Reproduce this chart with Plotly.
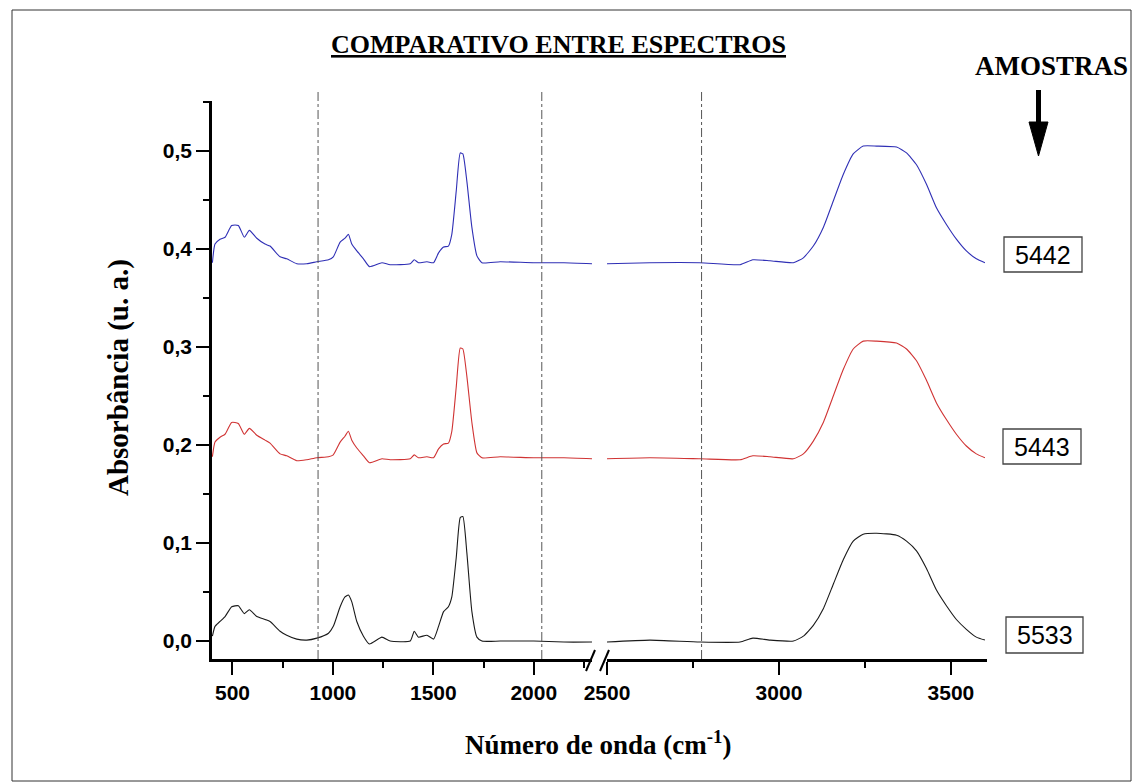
import plotly.graph_objects as go

# ---------------- data ----------------
wavenumber = [400, 413, 438, 463, 496, 529, 559, 584, 621, 662,
              687, 737, 770, 820, 870, 920, 978, 1002, 1036, 1060,
              1077, 1094, 1119, 1152, 1182, 1244, 1285, 1385, 1405, 1426,
              1468, 1501, 1526, 1551, 1575, 1592, 1614, 1634, 1647, 1667,
              1692, 1717, 1742, 1833, 2000, 2150, 2290,
              2497, 2625, 2770, 2887, 2924, 2974, 3042, 3071, 3100, 3129,
              3158, 3187, 3216, 3245, 3284, 3342, 3371, 3400, 3429, 3458,
              3487, 3516, 3545, 3574, 3599]

abs_5442 = [0.386, 0.405, 0.410, 0.412, 0.424, 0.424, 0.412, 0.419, 0.411, 0.405,
            0.403, 0.392, 0.390, 0.385, 0.385, 0.387, 0.389, 0.392, 0.407, 0.411,
            0.415, 0.405, 0.398, 0.390, 0.382, 0.386, 0.384, 0.385, 0.389, 0.386,
            0.387, 0.386, 0.396, 0.402, 0.403, 0.415, 0.459, 0.498, 0.497, 0.469,
            0.422, 0.393, 0.386, 0.387, 0.386, 0.386, 0.385,
            0.385, 0.386, 0.386, 0.384, 0.389, 0.388, 0.386, 0.391, 0.403, 0.422,
            0.449, 0.476, 0.497, 0.505, 0.505, 0.504, 0.498, 0.486, 0.466, 0.442,
            0.425, 0.410, 0.398, 0.390, 0.386]

abs_5443 = [0.188, 0.203, 0.208, 0.211, 0.223, 0.222, 0.211, 0.217, 0.210, 0.205,
            0.202, 0.191, 0.189, 0.184, 0.185, 0.187, 0.188, 0.190, 0.203, 0.209,
            0.214, 0.205, 0.197, 0.189, 0.182, 0.186, 0.185, 0.186, 0.190, 0.187,
            0.188, 0.187, 0.196, 0.201, 0.202, 0.214, 0.259, 0.299, 0.298, 0.270,
            0.223, 0.192, 0.187, 0.188, 0.187, 0.187, 0.186,
            0.186, 0.187, 0.186, 0.185, 0.189, 0.188, 0.186, 0.191, 0.204, 0.223,
            0.250, 0.277, 0.298, 0.306, 0.306, 0.304, 0.298, 0.286, 0.266, 0.243,
            0.226, 0.211, 0.199, 0.191, 0.187]

abs_5533 = [0.005, 0.015, 0.020, 0.025, 0.035, 0.036, 0.028, 0.032, 0.025, 0.022,
            0.020, 0.010, 0.006, 0.002, 0.001, 0.003, 0.008, 0.015, 0.035, 0.045,
            0.047, 0.040, 0.020, 0.005, -0.003, 0.004, 0.000, 0.000, 0.010, 0.004,
            0.006, 0.002, 0.015, 0.030, 0.035, 0.045, 0.085, 0.126, 0.127, 0.090,
            0.030, 0.004, 0.000, 0.000, 0.000, -0.001, -0.001,
            -0.001, 0.001, -0.001, -0.001, 0.003, 0.001, 0.000, 0.005, 0.016, 0.033,
            0.058, 0.083, 0.102, 0.109, 0.110, 0.108, 0.102, 0.092, 0.074, 0.052,
            0.036, 0.022, 0.012, 0.004, 0.001]

series = [("5442", abs_5442, "#2f2fb5"),
          ("5443", abs_5443, "#d03333"),
          ("5533", abs_5533, "#1a1a1a")]

marker_lines = [926, 2040, 2775]          # dash-dot reference lines (cm-1)
y_ticks = [0.0, 0.1, 0.2, 0.3, 0.4, 0.5]
y_ticktext = ["0,0", "0,1", "0,2", "0,3", "0,4", "0,5"]
x_left_ticks = [500, 1000, 1500, 2000]
x_right_ticks = [2500, 3000, 3500]

BREAK_LO, BREAK_HI = 2300, 2450

# ---------------- geometry ----------------
W, H = 1133, 783
L, R, T, B = 212, 987, 101, 659
PW, PH = R - L, B - T


def px(xp):
    return (xp - L) / PW


def py(yp):
    return (B - yp) / PH


fig = go.Figure()
for name, vals, col in series:
    xl = [w for w in wavenumber if w <= BREAK_LO]
    yl = [v for w, v in zip(wavenumber, vals) if w <= BREAK_LO]
    xr = [w for w in wavenumber if w >= BREAK_HI]
    yr = [v for w, v in zip(wavenumber, vals) if w >= BREAK_HI]
    for xs, ys, xa in [(xl, yl, "x"), (xr, yr, "x2")]:
        fig.add_trace(go.Scatter(x=xs, y=ys, mode="lines", name=name,
                                 line=dict(color=col, width=1.1, shape="spline",
                                           smoothing=0.5),
                                 xaxis=xa, yaxis="y", showlegend=False))

tickfont = dict(family="Liberation Sans", size=21, color="black", weight="bold")
axis_common = dict(showline=True, linecolor="black", linewidth=2.5, ticks="outside",
                   ticklen=13, tickwidth=2, tickcolor="black", showgrid=False,
                   zeroline=False, tickfont=tickfont)

split = (592 - L) / PW
split2 = (607 - L) / PW

fig.update_layout(
    width=W, height=H,
    margin=dict(l=L, r=W - R, t=T, b=H - B),
    paper_bgcolor="white", plot_bgcolor="white",
    xaxis=dict(domain=[0, split], range=[398, 2290], tickvals=x_left_ticks,
               anchor="y",
               minor=dict(dtick=250, tick0=0, ticklen=6, tickwidth=2, tickcolor="black",
                          ticks="outside", showgrid=False),
               **axis_common),
    xaxis2=dict(domain=[split2, 1], range=[2500, 3605], tickvals=x_right_ticks,
                anchor="y",
                minor=dict(tickvals=[2750, 3250], ticklen=6, tickwidth=2, tickcolor="black",
                           ticks="outside", showgrid=False),
                **axis_common),
    yaxis=dict(domain=[0, 1], range=[-0.0183, 0.551], tickvals=y_ticks,
               ticktext=y_ticktext, anchor="x",
               minor=dict(dtick=0.05, tick0=0, ticklen=6, tickwidth=2, tickcolor="black",
                          ticks="outside", showgrid=False),
               **axis_common),
)

shapes = []
# dash-dot reference lines
for wv in marker_lines:
    xr = "x" if wv <= BREAK_LO else "x2"
    shapes.append(dict(type="line", xref=xr, yref="paper", x0=wv, x1=wv,
                       y0=0, y1=py(90),
                       line=dict(color="#555555", width=1, dash="dashdot")))
# axis break marks
for (x0, y0, x1, y1) in [(586, 671, 595, 650), (600, 671, 609, 650)]:
    shapes.append(dict(type="line", xref="paper", yref="paper",
                       x0=px(x0), y0=py(y0), x1=px(x1), y1=py(y1),
                       line=dict(color="black", width=2)))
# sample label boxes
for (x0, y0, x1, y1) in [(1004, 237, 1082, 272), (1003, 429, 1081, 464),
                         (1006, 617, 1083, 653)]:
    shapes.append(dict(type="rect", xref="paper", yref="paper",
                       x0=px(x0), y0=py(y0), x1=px(x1), y1=py(y1),
                       line=dict(color="#444444", width=1.3)))
# arrow
shapes.append(dict(type="line", xref="paper", yref="paper",
                   x0=px(1038.5), x1=px(1038.5), y0=py(90), y1=py(126),
                   line=dict(color="black", width=5)))
shapes.append(dict(type="path", xref="paper", yref="paper",
                   path=f"M {px(1029)},{py(122)} L {px(1048)},{py(122)} L {px(1038.5)},{py(156)} Z",
                   fillcolor="black", line=dict(color="black", width=1)))
# outer frame
shapes.append(dict(type="rect", xref="paper", yref="paper",
                   x0=px(12), y0=py(781), x1=px(1131), y1=py(10),
                   line=dict(color="#333333", width=1)))
fig.update_layout(shapes=shapes)

serif_b = dict(family="Liberation Serif", color="black", weight="bold")
ann = [
    dict(text="<u>COMPARATIVO ENTRE ESPECTROS</u>", x=px(558), y=py(44),
         font=dict(size=26, **serif_b)),
    dict(text="AMOSTRAS", x=px(1051), y=py(66), font=dict(size=27, **serif_b)),
    dict(text="Absorbância (u. a.)", x=px(118), y=py(378), textangle=-90,
         font=dict(size=29, **serif_b)),
    dict(text="Número de onda (cm<sup>-1</sup>)", x=px(598), y=py(743),
         font=dict(size=27, **serif_b)),
]
for (name, _, _), (cx, cy) in zip(series, [(1043, 255), (1042, 447), (1045, 635)]):
    ann.append(dict(text=name, x=px(cx), y=py(cy),
                    font=dict(family="Liberation Sans", size=25, color="black")))
for a in ann:
    a.update(xref="paper", yref="paper", showarrow=False,
             xanchor="center", yanchor="middle")
fig.update_layout(annotations=ann)

fig.write_html("out.html")
